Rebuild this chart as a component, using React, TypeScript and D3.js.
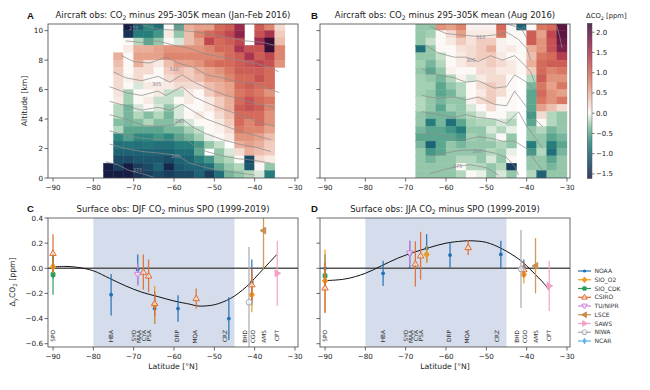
import React from "react";
import * as d3 from "d3";

const FONT = "'DejaVu Sans', sans-serif";
const n = null;

// ---------- Panel A/B: aircraft gridded ΔCO2 ----------
const cellLatA = [-77.5, -75, -72.5, -70, -67.5, -65, -62.5, -60, -57.5, -55, -52.5, -50, -47.5, -45, -42.5, -40, -37.5, -35];
const cellLatB = [-67.5, -65, -62.5, -60, -57.5, -55, -52.5, -50, -47.5, -45, -42.5, -40, -37.5, -35, -32.5];
const cellAlt = [10, 9.5, 9, 8.5, 8, 7.5, 7, 6.5, 6, 5.5, 5, 4.5, 4, 3.5, 3, 2.5, 2, 1.5, 1, 0.5, 0];
const cellW = 2.5;
const cellH = 0.5;

const dco2A: (number | null)[][] = [
  [n, n, -1.6, -1.0, -0.7, -0.9, 0.0, -0.5, 0.5, 0.6, 0.6, 1.0, 1.1, 1.6, n, 1.1, 0.8, 0.2],
  [n, n, -1.4, -0.8, -0.8, -0.6, 0.1, -0.3, 0.4, 0.8, 1.0, 1.1, 1.3, 1.7, n, 1.2, 1.5, 0.3],
  [n, n, 0.0, -0.2, -0.5, -0.3, 0.0, -0.1, 0.4, 0.6, 1.3, 1.0, 1.1, 1.3, n, 1.6, 2.2, 0.4],
  [n, n, 0.1, 0.5, 0.5, 0.6, 0.7, 0.7, 0.7, 0.7, 0.8, 1.0, 1.0, 1.5, 1.2, 1.2, 2.2, 0.8],
  [n, 0.5, 0.0, 0.6, 0.6, 0.6, 0.8, 0.8, 0.8, 0.8, 0.8, 0.8, 1.0, 1.1, 1.5, 1.1, 1.3, 0.8],
  [n, 0.4, 0.0, 0.5, 0.2, 0.1, 0.4, 0.6, 0.6, 0.7, 0.9, 1.0, 1.0, 1.1, 1.2, 1.3, 1.2, 0.7],
  [n, 0.3, 0.0, 0.2, 0.2, 0.0, 0.3, 0.4, 0.3, 0.5, 0.6, 0.7, 0.9, 1.1, 1.1, 1.1, 1.0, n],
  [n, 0.2, 0.05, 0.2, 0.0, 0.0, 0.2, 0.3, 0.3, 0.4, 0.6, 0.6, 0.8, 1.0, 1.0, 1.2, 1.0, n],
  [n, 0.2, 0.0, -0.1, 0.1, 0.1, 0.1, 0.2, 0.2, 0.2, 0.4, 0.5, 0.6, 1.0, 1.1, 1.0, 1.0, n],
  [n, 0.15, -0.25, 0.0, 0.0, 0.1, -0.15, -0.15, 0.1, 0.0, 0.3, 0.5, 0.6, 0.9, 1.0, 0.9, 0.7, n],
  [n, 0.1, -0.25, 0.0, 0.1, -0.15, -0.15, 0.0, 0.1, 0.0, 0.1, 0.3, 0.5, 1.0, 1.2, 1.0, 0.9, n],
  [n, -0.2, -0.4, -0.1, 0.0, -0.1, -0.3, -0.1, 0.0, 0.0, 0.1, 0.3, 0.5, 1.1, 1.2, 1.1, 0.8, n],
  [n, -0.2, -0.4, -0.2, -0.35, -0.2, -0.4, -0.1, 0.0, 0.1, 0.0, 0.2, 0.4, 1.0, 1.0, 1.0, 0.7, n],
  [n, -0.35, -0.4, -0.35, -0.2, -0.35, -0.35, -0.2, -0.1, 0.0, 0.0, 0.1, 0.3, 1.0, 0.8, 1.0, 0.7, n],
  [n, -0.2, -0.5, -0.5, -0.5, -0.5, -0.4, -0.4, -0.25, -0.15, 0.0, 0.05, 0.2, 0.9, 0.8, 0.8, 0.6, n],
  [n, -0.7, -0.55, -0.7, -0.7, -0.6, -0.7, -0.5, -0.4, -0.25, -0.05, 0.0, 0.1, 0.7, 0.7, 0.6, 0.4, n],
  [n, -0.9, -0.85, -0.9, -0.85, -0.9, -0.9, -0.8, -0.8, -0.6, -0.3, -0.15, n, 0.5, 0.6, 0.5, 0.3, n],
  [n, -1.0, -1.0, -1.0, -1.0, -1.0, -1.0, -0.9, -0.9, -0.5, n, -0.3, -0.1, 0.2, 0.5, 0.4, 0.3, n],
  [n, -1.2, -1.2, -1.1, -1.1, -1.1, -1.2, -1.0, -1.0, -0.8, -0.6, -0.3, -0.2, 0.0, -1.2, 0.2, 0.1, n],
  [-1.6, -1.3, -1.6, -1.3, -1.2, -1.0, -1.5, -1.1, -1.0, -1.0, -0.9, -0.5, -0.3, -0.2, -1.1, 0.0, -0.3, n],
  [-1.6, -1.6, -1.6, -1.4, -1.3, -1.2, -1.3, -1.2, -1.2, -1.0, -1.3, -0.9, -0.4, -0.3, -0.2, -0.1, -0.8, n],
];

const dco2B: (number | null)[][] = [
  [-0.3, -0.3, 0.7, 0.6, 0.8, 0.05, 0.05, 0.05, 1.0, 0.0, -1.0, 0.0, 0.9, 1.0, 2.0],
  [-0.3, -0.25, 0.0, 0.2, 0.6, 0.1, 0.1, 0.1, 0.9, 0.0, 0.0, 1.1, 0.6, 1.3, 2.0],
  [-0.3, -0.15, 0.0, 0.1, 0.3, 0.15, 0.3, 0.3, 0.05, 0.0, 0.0, 1.1, 0.7, 1.2, 1.9],
  [-0.9, -0.3, 0.0, 0.0, 0.15, 0.2, 0.3, 0.5, 0.05, 0.1, 0.0, 0.5, 0.7, 1.2, 1.8],
  [-0.3, -0.3, -0.15, 0.0, 0.1, 0.2, 0.3, 0.3, 0.1, 0.0, 0.0, 0.4, 0.9, 1.0, 1.4],
  [-0.25, -0.4, -0.2, 0.0, 0.1, 0.2, 0.2, 0.3, 0.2, 0.1, 0.0, 0.5, 1.0, 1.1, 1.1],
  [-0.3, -0.5, -0.3, 0.05, 0.0, 0.0, 0.2, 0.2, 0.1, 0.1, 0.0, 0.3, 1.0, 0.8, 0.9],
  [-0.25, -0.3, -0.4, -0.2, 0.05, -0.1, 0.1, 0.2, 0.2, 0.0, n, -0.2, 1.1, 0.7, 0.7],
  [-0.25, -0.25, -0.5, -0.3, -0.2, 0.0, 0.2, 0.3, 0.2, 0.0, n, -0.4, 0.9, 0.6, 0.9],
  [-0.25, -0.3, -0.5, -0.4, -0.2, 0.0, 0.1, 0.3, 0.2, 0.0, n, -0.5, 1.0, 0.7, 0.6],
  [-0.2, -0.3, -0.4, -0.3, -0.3, 0.05, 0.2, 0.3, 0.0, 0.0, n, -0.5, 0.9, 0.7, 0.9],
  [-0.2, -0.3, -0.5, -0.25, -0.3, -0.1, 0.0, 0.2, 0.0, 0.0, n, -0.5, 0.6, 0.4, 0.2],
  [-0.3, -0.4, -0.4, -0.4, -0.3, -0.2, -0.1, 0.0, 0.0, -0.1, n, -0.6, 0.2, -0.2, -0.3],
  [-0.3, -0.8, -0.4, -0.9, -0.5, -0.25, -0.2, -0.2, -0.1, -0.2, n, -0.5, 0.0, -0.2, -0.3],
  [-0.4, -0.5, -0.5, -0.6, -0.8, -0.3, -0.3, -0.1, -0.2, -0.05, n, -0.3, -0.2, -0.4, -0.3],
  [-0.5, -0.5, -0.5, -0.5, -0.6, -0.25, -0.3, -0.2, 0.0, -0.3, n, -0.3, -0.3, -0.5, -0.4],
  [-0.4, -1.0, -0.5, -0.3, -0.4, -0.3, -0.3, -0.3, -0.2, -0.3, n, -0.8, -0.3, -0.8, -0.5],
  [-0.3, -0.6, -0.5, -0.3, -0.3, -0.3, -0.3, -0.2, -0.25, -0.05, n, -0.6, -0.2, -0.9, -0.4],
  [-0.3, -0.4, -0.3, -0.3, -0.2, -0.2, -0.3, -0.1, -0.3, 0.0, n, -0.3, -0.3, -0.5, -0.3],
  [-0.3, -0.3, -0.3, -0.3, 0.0, -0.2, -0.2, -0.3, -0.2, -1.3, n, -0.3, -0.3, -0.4, -0.3],
  [-0.3, -0.3, -0.3, -0.3, -0.2, 0.0, -0.05, -0.3, -0.1, -0.3, n, -0.2, -1.0, -0.3, -0.3],
];

// potential temperature contours [lat, alt]
const thetaA: [number, number][][] = [
  [[-77, 1.1], [-74, 0.9], [-71, 0.5], [-68, 0.3], [-65, 0.05]],
  [[-76, 2.3], [-72, 2.0], [-68, 1.8], [-64, 1.7], [-61, 1.6], [-59, 1.5], [-56, 1.0], [-52, 0.7], [-48, 0.5], [-44, 0.35], [-40, 0.2]],
  [[-76, 3.2], [-72, 2.9], [-68, 2.7], [-64, 2.6], [-60, 2.6], [-58, 2.8], [-55, 2.2], [-52, 1.8], [-48, 1.5], [-44, 1.3], [-40, 1.2], [-36, 1.0]],
  [[-76, 4.3], [-72, 4.0], [-68, 3.6], [-64, 3.5], [-60, 3.6], [-58, 4.0], [-55, 3.4], [-52, 3.0], [-48, 2.6], [-44, 2.3], [-40, 2.1], [-36, 1.8]],
  [[-76, 5.2], [-72, 4.9], [-68, 4.6], [-64, 4.8], [-61, 4.6], [-58, 5.0], [-55, 4.5], [-52, 4.0], [-48, 3.6], [-44, 3.2], [-40, 2.9], [-36, 2.6]],
  [[-76, 6.2], [-72, 5.8], [-68, 5.6], [-64, 5.9], [-62, 5.6], [-58, 6.2], [-55, 5.5], [-51, 5.0], [-47, 4.6], [-43, 4.2], [-39, 3.8], [-35, 3.5]],
  [[-75, 7.2], [-72, 6.8], [-68, 6.6], [-64, 6.9], [-61, 6.5], [-58, 7.0], [-55, 6.5], [-51, 6.0], [-47, 5.6], [-43, 5.3], [-39, 5.0], [-35, 4.8]],
  [[-73, 8.3], [-70, 7.9], [-66, 7.8], [-62, 8.2], [-59, 7.8], [-55, 7.5], [-52, 7.0], [-48, 6.8], [-44, 6.5], [-40, 6.4], [-36, 6.0], [-34, 5.8]],
  [[-72, 9.3], [-68, 9.2], [-64, 9.3], [-60, 9.0], [-56, 8.8], [-52, 8.4], [-48, 8.2], [-44, 8.0], [-40, 7.8], [-36, 7.5], [-34, 7.2]],
  [[-68, 10.4], [-64, 10.1], [-58, 10.0], [-54, 9.9], [-50, 9.7], [-46, 9.5], [-42, 9.3], [-38, 9.2], [-35, 9.0]],
];
const thetaLabelsA: [number, number, string][] = [
  [-69, 0.55, "275"], [-59.5, 1.5, "280"], [-58.6, 3.9, "290"], [-64.3, 6.4, "305"], [-60, 7.4, "310"], [-70, 10.2, "275"], [-59, 10.2, "295"],
];
const thetaB: [number, number][][] = [
  [[-64, 0.3], [-60, 0.6], [-57, 0.8], [-54, 0.9], [-50, 0.7], [-47, 0.2]],
  [[-64, 1.5], [-60, 1.7], [-56, 1.9], [-52, 1.9], [-48, 1.7], [-45, 1.4], [-43, 0.8], [-42, 0.2]],
  [[-66, 3.0], [-62, 3.0], [-58, 2.7], [-55, 2.6], [-52, 2.8], [-49, 2.7], [-46, 2.5], [-43, 2.5], [-40, 2.0], [-38, 1.2], [-36, 0.5]],
  [[-66, 4.5], [-62, 4.3], [-58, 4.1], [-55, 4.3], [-52, 4.1], [-48, 4.0], [-45, 3.7], [-42, 4.5], [-40, 3.5], [-38, 2.8], [-36, 2.0]],
  [[-66, 5.6], [-62, 5.4], [-58, 5.5], [-55, 5.3], [-52, 5.5], [-48, 5.0], [-45, 4.9], [-43, 5.9], [-40, 4.8], [-38, 4.0], [-36, 3.5]],
  [[-66, 7.4], [-62, 7.0], [-58, 6.8], [-55, 6.5], [-52, 6.6], [-48, 6.1], [-45, 6.2], [-43, 7.0], [-40, 6.5], [-38, 6.0], [-37, 5.5]],
  [[-65, 9.0], [-62, 8.5], [-58, 8.2], [-55, 8.2], [-52, 7.9], [-49, 8.3], [-46, 8.0], [-43, 8.3], [-41, 7.8], [-39, 7.2], [-38, 6.5]],
  [[-64, 10.3], [-60, 9.8], [-56, 9.7], [-52, 9.6], [-48, 9.7], [-45, 9.9], [-42, 9.4], [-40, 8.8], [-39, 8.0]],
  [[-45, 10.45], [-43, 10.3], [-41, 10.0], [-40, 9.5]],
  [[-32.5, 10.3], [-31.8, 9.6], [-31.2, 8.8]],
];
const thetaLabelsB: [number, number, string][] = [
  [-57.1, 0.8, "275"], [-52.2, 1.8, "280"], [-51.4, 9.6, "310"], [-53.8, 8.0, "305"], [-41, 10.2, "-0"],
];

// colorbar
const cbMin = -1.6;
const cbMax = 2.22;
const cbTicks = [-1.5, -1.0, -0.5, 0.0, 0.5, 1.0, 1.5, 2.0];
const curlStops = ["#151d44", "#1a3658", "#1b526a", "#1f6d78", "#2f8a80", "#66ad93", "#a9d2b5", "#fbf8f6", "#f0cabb", "#e49c84", "#d6705c", "#c24a50", "#a02c4e", "#6f1a48", "#340d35"];

// ---------- Panel C/D: surface stations ----------
const stationNames = ["SPO", "HBA", "SYO", "MAA", "CYA", "PSA", "DRP", "MQA", "CRZ", "BHD", "CGO", "AMS", "CPT"];
const stationLat = [-90, -75.6, -69.0, -67.6, -66.3, -64.8, -59.0, -54.5, -46.4, -41.4, -40.7, -37.8, -34.4];
const stationLabelLat = [-90, -75.6, -70.0, -68.7, -67.5, -66.2, -59.2, -54.7, -47.4, -42.3, -40.3, -37.6, -34.5];

const networks = ["NOAA", "SIO_O2", "SIO_CDK", "CSIRO", "TU/NIPR", "LSCE", "SAWS", "NIWA", "NCAR"];
const netColors = ["#1f6fb4", "#eb9a1e", "#2a9d5c", "#e0692c", "#cf83d8", "#c98f4e", "#f2a2c6", "#a3a9b1", "#5fb2e6"];
const netShapes = ["o", "D", "s", "^", "v", "<", ">", "p", "d"];
const netFilled = [true, true, true, false, false, true, true, false, true];

// [network, station, value, error]
const djfObs: [string, string, number, number][] = [
  ["NOAA", "SPO", 0.02, 0.10],
  ["NOAA", "HBA", -0.21, 0.165],
  ["NOAA", "SYO", -0.01, 0.12],
  ["NOAA", "PSA", -0.32, 0.12],
  ["NOAA", "DRP", -0.32, 0.105],
  ["NOAA", "CRZ", -0.40, 0.17],
  ["NOAA", "CGO", -0.11, 0.18],
  ["SIO_CDK", "SPO", -0.05, 0.16],
  ["SIO_O2", "SPO", 0.01, 0.05],
  ["SIO_O2", "PSA", -0.29, 0.15],
  ["SIO_O2", "CGO", -0.21, 0.14],
  ["CSIRO", "SPO", 0.12, 0.15],
  ["CSIRO", "MAA", -0.03, 0.14],
  ["CSIRO", "CYA", -0.06, 0.13],
  ["CSIRO", "PSA", -0.28, 0.10],
  ["CSIRO", "MQA", -0.24, 0.08],
  ["CSIRO", "CGO", -0.13, 0.13],
  ["TU/NIPR", "SYO", -0.05, 0.09],
  ["LSCE", "AMS", 0.30, 0.31],
  ["SAWS", "CPT", -0.04, 0.26],
  ["NIWA", "BHD", -0.27, 0.44],
];
const jjaObs: [string, string, number, number][] = [
  ["NOAA", "SPO", 0.0, 0.11],
  ["NOAA", "HBA", -0.04, 0.10],
  ["NOAA", "SYO", 0.11, 0.11],
  ["NOAA", "PSA", 0.16, 0.11],
  ["NOAA", "DRP", 0.105, 0.10],
  ["NOAA", "CRZ", 0.11, 0.11],
  ["NOAA", "CGO", 0.01, 0.06],
  ["SIO_CDK", "SPO", -0.06, 0.05],
  ["SIO_O2", "SPO", -0.10, 0.25],
  ["SIO_O2", "PSA", 0.11, 0.07],
  ["SIO_O2", "CGO", -0.05, 0.07],
  ["CSIRO", "SPO", -0.155, 0.20],
  ["CSIRO", "MAA", 0.035, 0.18],
  ["CSIRO", "CYA", 0.10, 0.19],
  ["CSIRO", "MQA", 0.166, 0.06],
  ["CSIRO", "CGO", -0.01, 0.06],
  ["TU/NIPR", "SYO", 0.12, 0.10],
  ["LSCE", "AMS", 0.02, 0.22],
  ["SAWS", "CPT", -0.14, 0.20],
  ["NIWA", "BHD", -0.005, 0.31],
];

const fitLatDjf = [-90, -87, -84, -80, -76, -72, -68, -64, -60, -56, -54, -50, -46, -42, -38, -34.5];
const fitDjf = [0.01, 0.015, 0.008, -0.02, -0.08, -0.14, -0.19, -0.225, -0.26, -0.286, -0.30, -0.29, -0.24, -0.145, -0.01, 0.11];
const fitLatJja = [-90, -85, -80, -76, -72, -68, -64, -60, -56, -54, -50, -46, -42, -40, -38, -36, -34.5];
const fitJja = [-0.098, -0.085, -0.04, 0.02, 0.08, 0.127, 0.166, 0.2, 0.216, 0.219, 0.206, 0.153, 0.074, 0.02, -0.045, -0.11, -0.17];

const shadeLat = [-80, -45];
const latTicks = [-90, -80, -70, -60, -50, -40, -30];
const altTicks = [0, 2, 4, 6, 8, 10];
const obsTicks = [0.4, 0.2, 0.0, -0.2, -0.4, -0.6];

const fmtMinus = (s: string) => s.replace("-", "\u2212");

function markerPath(shape: string, s: number): string {
  switch (shape) {
    case "D":
      return `M0,${-s}L${s * 0.8},0L0,${s}L${-s * 0.8},0Z`;
    case "d":
      return `M0,${-s}L${s * 0.5},0L0,${s}L${-s * 0.5},0Z`;
    case "s":
      return `M${-s},${-s}H${s}V${s}H${-s}Z`;
    case "^":
      return `M0,${-s}L${s * 0.95},${s * 0.65}L${-s * 0.95},${s * 0.65}Z`;
    case "v":
      return `M0,${s}L${s * 0.95},${-s * 0.65}L${-s * 0.95},${-s * 0.65}Z`;
    case "<":
      return `M${-s},0L${s * 0.65},${-s * 0.95}L${s * 0.65},${s * 0.95}Z`;
    case ">":
      return `M${s},0L${-s * 0.65},${-s * 0.95}L${-s * 0.65},${s * 0.95}Z`;
    case "p": {
      const pts = d3.range(5).map((i) => {
        const a = -Math.PI / 2 + (i * 2 * Math.PI) / 5;
        return [s * Math.cos(a), s * Math.sin(a)];
      });
      return "M" + pts.map((p) => p.join(",")).join("L") + "Z";
    }
    default:
      return "";
  }
}

const markerSize: Record<string, number> = { o: 1.9, D: 3.3, s: 1.9, "^": 3.4, v: 3.4, "<": 3.4, ">": 3.4, p: 3.2, d: 3.2 };

function Marker({ net, x, y, scale = 1 }: { net: number; x: number; y: number; scale?: number }) {
  const shape = netShapes[net];
  const color = netColors[net];
  const filled = netFilled[net];
  const s = markerSize[shape] * scale;
  if (shape === "o") return <circle cx={x} cy={y} r={s} fill={color} />;
  return (
    <path
      d={markerPath(shape, s)}
      transform={`translate(${x},${y})`}
      fill={filled ? color : "white"}
      fillOpacity={filled ? 1 : 0.6}
      stroke={color}
      strokeWidth={1}
    />
  );
}

// text built from [string, isSubscript] parts
function subText(parts: [string, boolean][]) {
  let shift = 0;
  return parts.map((p, i) => {
    const target = p[1] ? 2 : 0;
    const dy = target - shift;
    shift = target;
    return (
      <tspan key={i} dy={dy} fontSize={p[1] ? "0.72em" : undefined}>
        {p[0]}
      </tspan>
    );
  });
}

export default function App() {
  const xA = d3.scaleLinear().domain([-91.25, -29.25]).range([48, 298]);
  const xB = d3.scaleLinear().domain([-91.25, -29.25]).range([320, 570]);
  const yAlt = d3.scaleLinear().domain([0, 10.45]).range([178, 24]);
  const yObs = d3.scaleLinear().domain([-0.626, 0.4]).range([347, 218]);
  const cbY = d3.scaleLinear().domain([cbMin, cbMax]).range([178, 23.3]);
  const curl = d3.piecewise(d3.interpolateRgb, curlStops);
  const color = (v: number) => {
    const t = v < 0 ? (0.5 * (v - cbMin)) / -cbMin : 0.5 + (0.5 * v) / cbMax;
    return curl(Math.max(0, Math.min(1, t)));
  };

  const frame = "#444";
  const tickFont = 7.2;

  const heat = (x: d3.ScaleLinear<number, number>, grid: (number | null)[][], lats: number[], key: string) =>
    grid.flatMap((row, k) =>
      row.map((v, j) => {
        if (v === null) return null;
        const x0 = x(lats[j]);
        const x1 = x(lats[j] + cellW);
        const y0 = yAlt(cellAlt[k] + cellH);
        const y1 = yAlt(cellAlt[k]);
        const c = color(v);
        return <rect key={`${key}${k}-${j}`} x={x0} y={y0} width={x1 - x0} height={y1 - y0} fill={c} stroke={c} strokeWidth={0.4} />;
      })
    );

  const contourLine = d3.line<[number, number]>();

  const contours = (x: d3.ScaleLinear<number, number>, lines: [number, number][][], labels: [number, number, string][], key: string) => (
    <g>
      {lines.map((ln, i) => (
        <path
          key={key + i}
          d={contourLine.x((p) => x(p[0])).y((p) => yAlt(p[1]))(ln) || ""}
          fill="none"
          stroke="#8c8c8c"
          strokeWidth={0.85}
          strokeOpacity={0.85}
        />
      ))}
      {labels.map((l, i) => (
        <text key={key + "l" + i} x={x(l[0])} y={yAlt(l[1]) + 2} fontSize={5} fill="#8a8a9a" textAnchor="middle" fontFamily={FONT}>
          {l[2]}
        </text>
      ))}
    </g>
  );

  const xAxis = (x: d3.ScaleLinear<number, number>, yb: number, key: string) => (
    <g>
      {latTicks.map((t) => (
        <g key={key + t}>
          <line x1={x(t)} x2={x(t)} y1={yb} y2={yb + 3.5} stroke={frame} strokeWidth={0.8} />
          <text x={x(t)} y={yb + 11.5} fontSize={tickFont} textAnchor="middle" fill="#222" fontFamily={FONT}>
            {fmtMinus(String(t))}
          </text>
        </g>
      ))}
    </g>
  );

  const yTicks = (
    y: d3.ScaleLinear<number, number>,
    ticks: number[],
    xl: number,
    labels: boolean,
    fmt: (v: number) => string,
    key: string
  ) => (
    <g>
      {ticks.map((t) => (
        <g key={key + t}>
          <line x1={xl - 3.5} x2={xl} y1={y(t)} y2={y(t)} stroke={frame} strokeWidth={0.8} />
          {labels && (
            <text x={xl - 5} y={y(t) + 2.6} fontSize={tickFont} textAnchor="end" fill="#222" fontFamily={FONT}>
              {fmtMinus(fmt(t))}
            </text>
          )}
        </g>
      ))}
    </g>
  );

  const obsPanel = (
    x: d3.ScaleLinear<number, number>,
    obs: [string, string, number, number][],
    fitLat: number[],
    fitVal: number[],
    key: string
  ) => {
    const left = x.range()[0];
    const right = x.range()[1];
    const curve = d3
      .line<number>()
      .x((_, i) => x(fitLat[i]))
      .y((v) => yObs(v))
      .curve(d3.curveCatmullRom.alpha(0.5));
    return (
      <g>
        <clipPath id={"clip" + key}>
          <rect x={left} y={218} width={right - left} height={129} />
        </clipPath>
        <rect x={x(shadeLat[0])} y={218} width={x(shadeLat[1]) - x(shadeLat[0])} height={129} fill="#d5ddec" />
        <line x1={left} x2={right} y1={yObs(0)} y2={yObs(0)} stroke="#555" strokeWidth={1.4} />
        <path d={curve(fitVal) || ""} fill="none" stroke="#111" strokeWidth={1} />
        <g clipPath={`url(#clip${key})`}>
          {obs.map((o, i) => {
            const net = networks.indexOf(o[0]);
            const lat = stationLat[stationNames.indexOf(o[1])];
            const cx = x(lat);
            return (
              <g key={key + "o" + i}>
                <line x1={cx} x2={cx} y1={yObs(o[2] + o[3])} y2={yObs(o[2] - o[3])} stroke={netColors[net]} strokeWidth={1.3} strokeOpacity={0.9} />
                <Marker net={net} x={cx} y={yObs(o[2])} />
              </g>
            );
          })}
        </g>
        {stationNames.map((s, i) => {
          const lx = x(stationLabelLat[i]) + 2;
          return (
            <text
              key={key + s}
              transform={`translate(${lx},330) rotate(-90)`}
              fontSize={5.8}
              textAnchor="end"
              fill="#333"
              fontFamily={FONT}
            >
              {s}
            </text>
          );
        })}
        <rect x={left} y={218} width={right - left} height={129} fill="none" stroke={frame} strokeWidth={0.8} />
        {xAxis(x, 347, key + "x")}
      </g>
    );
  };

  const cbRects = d3.range(0, 155).map((i) => {
    const y0 = 23.3 + i;
    const v = cbY.invert(y0 + 0.5);
    return <rect key={"cb" + i} x={587.3} y={y0} width={4.7} height={1.2} fill={color(v)} />;
  });

  return (
    <svg
      width={650}
      height={390}
      viewBox="0 0 650 390"
      style={{ position: "absolute", left: 0, top: 0, background: "white" }}
      fontFamily={FONT}
    >
      <rect width={650} height={390} fill="white" />

      {/* Panel A */}
      <clipPath id="clipA">
        <rect x={48} y={24} width={250} height={154} />
      </clipPath>
      <g clipPath="url(#clipA)">
        {heat(xA, dco2A, cellLatA, "a")}
        {contours(xA, thetaA, thetaLabelsA, "ca")}
      </g>
      <rect x={48} y={24} width={250} height={154} fill="none" stroke={frame} strokeWidth={0.8} />
      {xAxis(xA, 178, "ax")}
      {yTicks(yAlt, altTicks, 48, true, (v) => String(v), "ay")}
      <text transform="translate(27,101) rotate(-90)" fontSize={7.7} textAnchor="middle" fill="#222">
        Altitude [km]
      </text>
      <text x={27} y={18.5} fontSize={9.5} fontWeight="bold" fontFamily="'Liberation Sans', sans-serif" fill="#111">A</text>
      <text x={173} y={18} fontSize={8.5} textAnchor="middle" fill="#222">
        {subText([["Aircraft obs: CO", false], ["2", true], [" minus 295-305K mean (Jan-Feb 2016)", false]])}
      </text>

      {/* Panel B */}
      <clipPath id="clipB">
        <rect x={320} y={24} width={250} height={154} />
      </clipPath>
      <g clipPath="url(#clipB)">
        {heat(xB, dco2B, cellLatB, "b")}
        {contours(xB, thetaB, thetaLabelsB, "cb")}
      </g>
      <rect x={320} y={24} width={250} height={154} fill="none" stroke={frame} strokeWidth={0.8} />
      {xAxis(xB, 178, "bx")}
      {yTicks(yAlt, altTicks, 320, false, (v) => String(v), "by")}
      <text x={311} y={18.5} fontSize={9.5} fontWeight="bold" fontFamily="'Liberation Sans', sans-serif" fill="#111">B</text>
      <text x={445} y={18} fontSize={8.5} textAnchor="middle" fill="#222">
        {subText([["Aircraft obs: CO", false], ["2", true], [" minus 295-305K mean (Aug 2016)", false]])}
      </text>

      {/* Colorbar */}
      {cbRects}
      <rect x={587.3} y={23.3} width={4.7} height={155} fill="none" stroke="#555" strokeWidth={0.5} />
      {cbTicks.map((t) => (
        <g key={"cbt" + t}>
          <line x1={592} x2={594.5} y1={cbY(t)} y2={cbY(t)} stroke="#444" strokeWidth={0.7} />
          <text x={596} y={cbY(t) + 2.5} fontSize={7} fill="#222">
            {fmtMinus(t.toFixed(1))}
          </text>
        </g>
      ))}
      <text x={586} y={17.5} fontSize={6.8} fill="#222">
        {subText([["ΔCO", false], ["2", true], [" [ppm]", false]])}
      </text>

      {/* Panel C */}
      {obsPanel(xA, djfObs, fitLatDjf, fitDjf, "C")}
      {yTicks(yObs, obsTicks, 48, true, (v) => v.toFixed(1), "cy")}
      <text x={27} y={211.5} fontSize={9.5} fontWeight="bold" fontFamily="'Liberation Sans', sans-serif" fill="#111">C</text>
      <text x={173} y={212} fontSize={8.5} textAnchor="middle" fill="#222">
        {subText([["Surface obs: DJF CO", false], ["2", true], [" minus SPO (1999-2019)", false]])}
      </text>
      <text transform="translate(15,282) rotate(-90)" fontSize={7.7} textAnchor="middle" fill="#222">
        {subText([["Δ", false], ["y", true], ["CO", false], ["2", true], [" [ppm]", false]])}
      </text>
      <text x={173} y={368.5} fontSize={7.7} textAnchor="middle" fill="#222">
        Latitude [°N]
      </text>

      {/* Panel D */}
      {obsPanel(xB, jjaObs, fitLatJja, fitJja, "D")}
      {yTicks(yObs, obsTicks, 320, false, (v) => v.toFixed(1), "dy")}
      <text x={311} y={211.5} fontSize={9.5} fontWeight="bold" fontFamily="'Liberation Sans', sans-serif" fill="#111">D</text>
      <text x={445} y={212} fontSize={8.5} textAnchor="middle" fill="#222">
        {subText([["Surface obs: JJA CO", false], ["2", true], [" minus SPO (1999-2019)", false]])}
      </text>
      <text x={445} y={368.5} fontSize={7.7} textAnchor="middle" fill="#222">
        Latitude [°N]
      </text>

      {/* Legend */}
      {networks.map((nm, i) => {
        const ly = 271 + 8.75 * i;
        return (
          <g key={"lg" + nm}>
            <line x1={578} x2={591} y1={ly} y2={ly} stroke={netColors[i]} strokeWidth={1.2} />
            <Marker net={i} x={584.5} y={ly} scale={0.85} />
            <text x={594.5} y={ly + 2.2} fontSize={6} fill="#333">
              {nm}
            </text>
          </g>
        );
      })}
    </svg>
  );
}
